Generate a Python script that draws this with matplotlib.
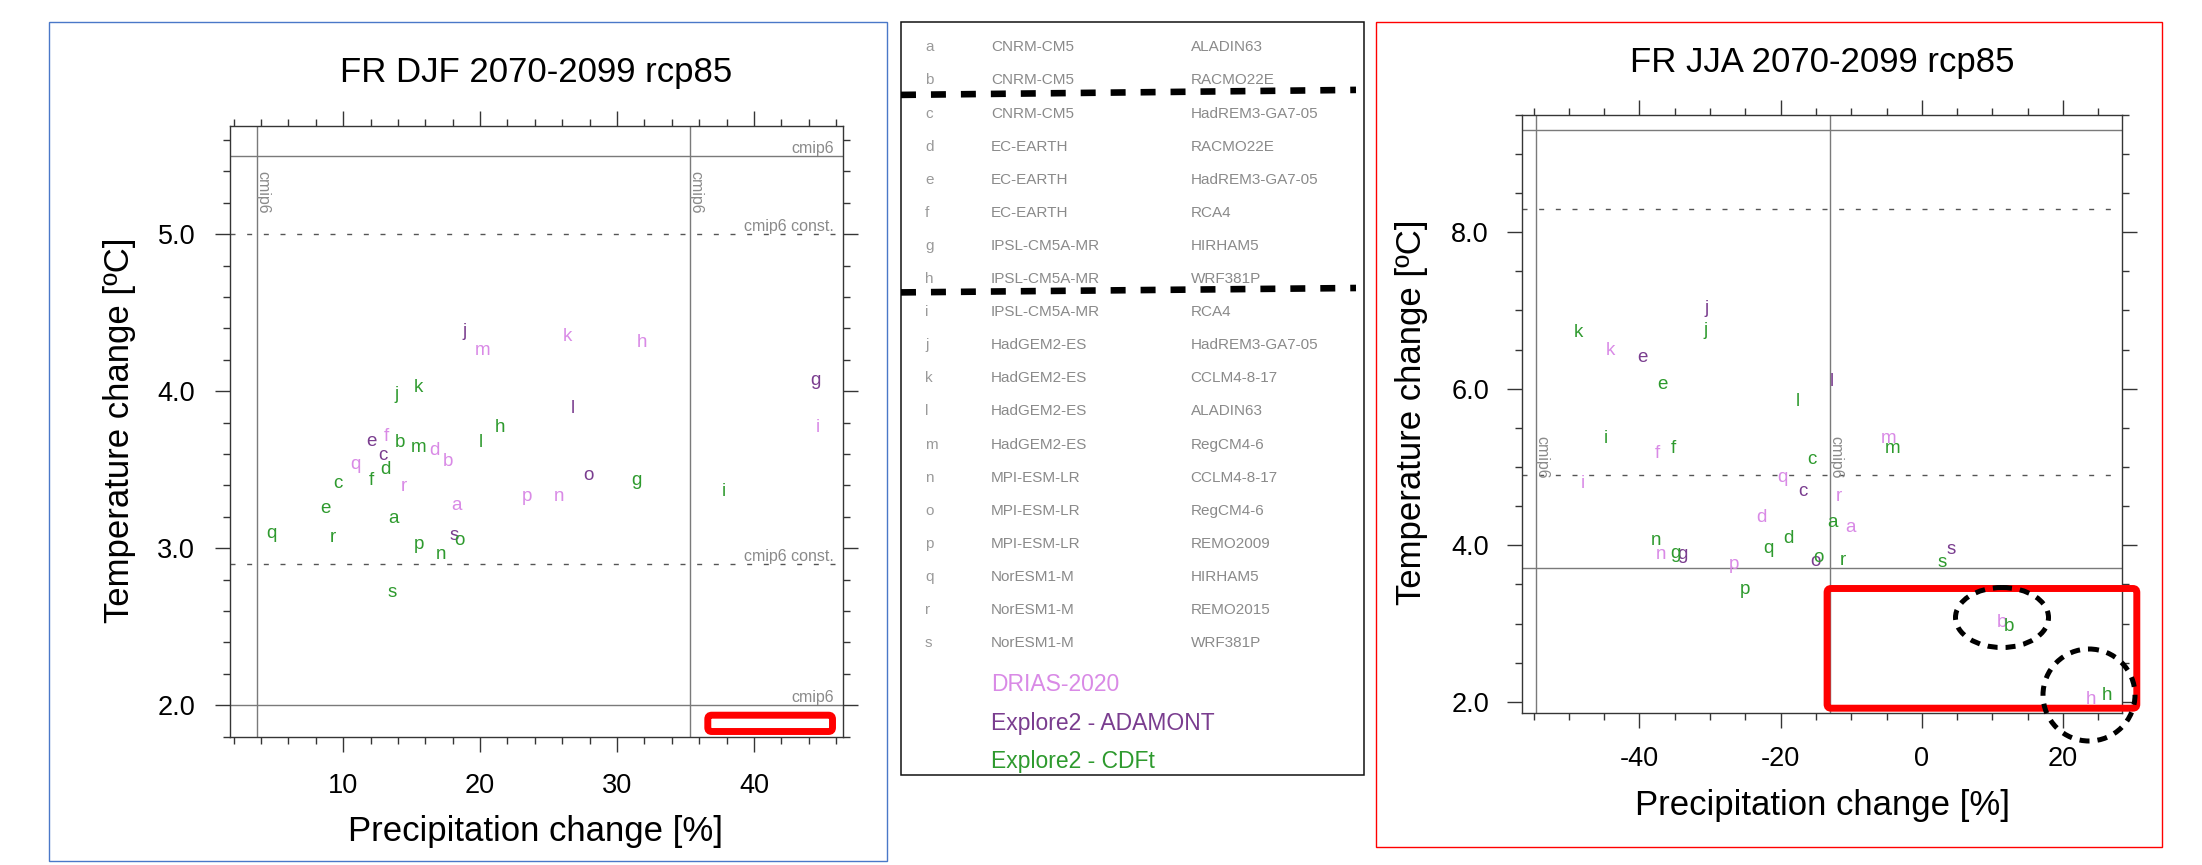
import matplotlib
matplotlib.use("Agg")
import matplotlib.pyplot as plt
from matplotlib.patches import Rectangle, FancyBboxPatch, Ellipse
from matplotlib.ticker import FixedLocator, MultipleLocator

plt.rcParams['font.family'] = ['Liberation Sans', 'DejaVu Sans']
plt.rcParams['axes.unicode_minus'] = False

# ---------------- data ----------------
letters = list("abcdefghijklmnopqrs")
gcms = ["CNRM-CM5", "CNRM-CM5", "CNRM-CM5", "EC-EARTH", "EC-EARTH", "EC-EARTH",
        "IPSL-CM5A-MR", "IPSL-CM5A-MR", "IPSL-CM5A-MR", "HadGEM2-ES", "HadGEM2-ES",
        "HadGEM2-ES", "HadGEM2-ES", "MPI-ESM-LR", "MPI-ESM-LR", "MPI-ESM-LR",
        "NorESM1-M", "NorESM1-M", "NorESM1-M"]
rcms = ["ALADIN63", "RACMO22E", "HadREM3-GA7-05", "RACMO22E", "HadREM3-GA7-05", "RCA4",
        "HIRHAM5", "WRF381P", "RCA4", "HadREM3-GA7-05", "CCLM4-8-17", "ALADIN63",
        "RegCM4-6", "CCLM4-8-17", "RegCM4-6", "REMO2009", "HIRHAM5", "REMO2015", "WRF381P"]

series_names = ["DRIAS-2020", "Explore2 - ADAMONT", "Explore2 - CDFt"]
series_colors = ["#d98ae6", "#7a3d8f", "#2e9a2e"]

# DJF
drias_letters = ["a", "b", "d", "f", "h", "i", "k", "m", "n", "p", "q", "r"]
adamont_letters = ["c", "e", "g", "j", "l", "o", "s"]
cdft_letters = letters

djf_drias_dp = [18.26, 17.65, 16.68, 13.16, 31.82, 44.66, 26.4, 20.2, 25.74, 23.41, 10.9, 14.42]
djf_drias_dt = [3.27, 3.55, 3.62, 3.71, 4.31, 3.77, 4.35, 4.26, 3.33, 3.33, 3.53, 3.39]
djf_adamont_dp = [12.92, 12.07, 44.52, 18.87, 26.77, 27.91, 18.09]
djf_adamont_dt = [3.59, 3.68, 4.07, 4.38, 3.89, 3.46, 3.08]
djf_cdft_dp = [13.7, 14.13, 9.64, 13.09, 8.74, 12.07, 31.43, 21.42, 37.81, 13.89, 15.52,
               20.09, 15.52, 17.17, 18.5, 15.54, 4.78, 9.23, 13.61]
djf_cdft_dt = [3.19, 3.67, 3.41, 3.50, 3.25, 3.43, 3.43, 3.77, 3.36, 3.98, 4.02,
               3.67, 3.64, 2.96, 3.05, 3.02, 3.09, 3.07, 2.72]

# JJA
jja_drias_dp = [-10.1, 11.4, -22.7, -37.5, 24.0, -48.0, -44.15, -4.7, -37.0, -26.6, -19.8, -11.8]
jja_drias_dt = [4.23, 3.01, 4.36, 5.17, 2.03, 4.79, 6.49, 5.36, 3.88, 3.76, 4.87, 4.62]
jja_adamont_dp = [-16.85, -39.6, -33.9, -30.5, -12.8, -15.05, 4.1]
jja_adamont_dt = [4.69, 6.40, 3.88, 7.02, 6.09, 3.79, 3.94]
jja_cdft_dp = [-12.6, 12.4, -15.5, -18.9, -36.8, -35.2, -34.9, 26.3, -44.7, -30.6, -48.7,
               -17.6, -4.1, -37.6, -14.7, -25.1, -21.8, -11.2, 2.85]
jja_cdft_dt = [4.29, 2.96, 5.09, 4.09, 6.05, 5.23, 3.89, 2.08, 5.36, 6.74, 6.72,
               5.84, 5.23, 4.06, 3.84, 3.44, 3.96, 3.80, 3.78]

# reference lines (cmip6 ranges)
djf_hlines_solid = [5.5, 2.0]
djf_hlines_dashed = [5.0, 2.9]
djf_vlines = [3.73, 35.3]
jja_hlines_solid = [9.30, 3.71]
jja_hlines_dashed = [8.30, 4.90]
jja_vlines = [-54.6, -13.07]

titles = ["FR DJF 2070-2099 rcp85", "FR JJA 2070-2099 rcp85"]
xlabel = "Precipitation change [%]"
ylabel = "Temperature change [ºC]"

djf_xticks = [10, 20, 30, 40]
djf_yticks = [2.0, 3.0, 4.0, 5.0]
jja_xticks = [-40, -20, 0, 20]
jja_yticks = [2.0, 4.0, 6.0, 8.0]

# ---------------- figure ----------------
W, H = 2202, 865
fig = plt.figure(figsize=(W / 100, H / 100), dpi=100)


def rect(l, t, r, b):
    return [l / W, 1 - b / H, (r - l) / W, (b - t) / H]


def ftext(x, y, s, **kw):
    return fig.text(x / W, 1 - y / H, s, **kw)


spine_c = "#353535"
gray_txt = "#8a8a8a"

ax1 = fig.add_axes(rect(230, 125.8, 843, 736.5))
ax2 = fig.add_axes(rect(1522.3, 114.7, 2122.3, 712.8))


def style(ax, xt, yt, xmin, ymin, xpad, ypad):
    for s in ax.spines.values():
        s.set_color(spine_c)
        s.set_linewidth(1.0)
    ax.xaxis.set_major_locator(FixedLocator(xt))
    ax.yaxis.set_major_locator(FixedLocator(yt))
    ax.set_xticklabels([f"{v:d}" for v in xt])
    ax.set_yticklabels([f"{v:.1f}" for v in yt])
    ax.xaxis.set_minor_locator(MultipleLocator(xmin))
    ax.yaxis.set_minor_locator(MultipleLocator(ymin))
    ax.tick_params(which="both", direction="out", top=True, right=True,
                   color=spine_c, width=1.0)
    ax.tick_params(which="major", length=11)
    ax.tick_params(which="minor", length=5)
    ax.tick_params(axis="x", which="major", labelsize=19.5, pad=xpad)
    ax.tick_params(axis="y", which="major", labelsize=19.5, pad=ypad)


style(ax1, djf_xticks, djf_yticks, 2, 0.2, 15.5, 14)
ax1.set_xlim(1.74, 46.5)
ax1.set_ylim(1.80, 5.69)
style(ax2, jja_xticks, jja_yticks, 5, 0.5, 13.2, 13)
ax2.set_xlim(-56.6, 28.4)
ax2.set_ylim(1.86, 9.50)

for ax, hs, hd, vl in [(ax1, djf_hlines_solid, djf_hlines_dashed, djf_vlines),
                       (ax2, jja_hlines_solid, jja_hlines_dashed, jja_vlines)]:
    for y in hs:
        ax.axhline(y, color="#7a7a7a", lw=1.0, zorder=1)
    for y in hd:
        ax.axhline(y, color="#555555", lw=1.0, ls=(0, (3.6, 8.4)), zorder=1)
    for x in vl:
        ax.axvline(x, color="#7a7a7a", lw=1.0, zorder=1)

# cmip6 labels, DJF
lab_kw = dict(fontsize=11.5, color=gray_txt, zorder=2)
for y, s in [(5.5, "cmip6"), (5.0, "cmip6 const."), (2.9, "cmip6 const."), (2.0, "cmip6")]:
    ax1.text(45.87, y + 0.019, s, ha="right", va="baseline", **lab_kw)
for x in djf_vlines:
    ax1.text(x + 0.11, 5.40, "cmip6", rotation=270, rotation_mode="anchor",
             ha="left", va="baseline", **lab_kw)
for x in jja_vlines:
    ax2.text(x + 0.2, 5.40, "cmip6", rotation=270, rotation_mode="anchor",
             ha="left", va="baseline", **lab_kw)

# letters
pt_kw = dict(fontsize=13.5, ha="center", va="center", zorder=3)
for ax, sets in [
    (ax1, [(drias_letters, djf_drias_dp, djf_drias_dt, 0),
           (adamont_letters, djf_adamont_dp, djf_adamont_dt, 1),
           (cdft_letters, djf_cdft_dp, djf_cdft_dt, 2)]),
    (ax2, [(drias_letters, jja_drias_dp, jja_drias_dt, 0),
           (adamont_letters, jja_adamont_dp, jja_adamont_dt, 1),
           (cdft_letters, jja_cdft_dp, jja_cdft_dt, 2)])]:
    for labs, xs, ys, ci in sets:
        for l, x, y in zip(labs, xs, ys):
            ax.text(x, y, l, color=series_colors[ci], **pt_kw)

# titles & axis labels
ftext(536, 81.6, titles[0], fontsize=25, ha="center", va="baseline")
ftext(1822.3, 71.7, titles[1], fontsize=25, ha="center", va="baseline")
ftext(536, 841.3, xlabel, fontsize=25, ha="center", va="baseline")
ftext(1822.3, 815.4, xlabel, fontsize=25, ha="center", va="baseline")
ftext(129, 430, ylabel, fontsize=25, rotation=90, rotation_mode="anchor",
      ha="center", va="baseline")
ftext(1421.4, 412.4, ylabel, fontsize=25, rotation=90, rotation_mode="anchor",
      ha="center", va="baseline")

# ---------------- overlay (legend panel, frames, annotations) ----------------
ov = fig.add_axes([0, 0, 1, 1], zorder=10)
ov.set_xlim(0, W)
ov.set_ylim(H, 0)
ov.axis("off")
ov.patch.set_alpha(0)

ov.add_patch(Rectangle((48.8, 22), 837.9, 838.6, fill=False, ec="#4a78c8", lw=1.0))
ov.add_patch(Rectangle((1376.4, 22), 785.1, 825, fill=False, ec="#ff0000", lw=1.0))
ov.add_patch(Rectangle((901, 22), 463.3, 753, fill=False, ec="#111111", lw=1.1))

for i, (l, g, r) in enumerate(zip(letters, gcms, rcms)):
    yb = 51.3 + 33.1 * i
    ov.text(925, yb, l, fontsize=11, color="#9a9a9a", ha="left", va="baseline")
    ov.text(991, yb, g, fontsize=11, color=gray_txt, ha="left", va="baseline")
    ov.text(1190.7, yb, r, fontsize=11, color=gray_txt, ha="left", va="baseline")

for i, (nm, c) in enumerate(zip(series_names, series_colors)):
    ov.text(991, 691.2 + 38.6 * i, nm, fontsize=16.5, color=c, ha="left", va="baseline")

for y0, y1 in [(94.9, 89.9), (292.4, 288.0)]:
    ov.plot([901, 1356], [y0, y1], color="black", lw=4.75, ls=(0, (2.27, 2.27)),
            dash_capstyle="butt")

ov.add_patch(FancyBboxPatch((707.8, 715.2), 124.7, 16.3,
                            boxstyle="round,pad=0,rounding_size=4",
                            ec="#ff0000", fc="white", lw=5))
ov.add_patch(FancyBboxPatch((1827.1, 588.5), 309.7, 119.7,
                            boxstyle="round,pad=0,rounding_size=4",
                            ec="#ff0000", fc="none", lw=5))
ov.add_patch(Ellipse((2002, 617.5), 93, 60, fill=False, ec="black", lw=3.6,
                     ls=(0, (2.0, 1.6))))
ov.add_patch(Ellipse((2089, 695), 92, 92, fill=False, ec="black", lw=3.6,
                     ls=(0, (2.0, 1.6))))

fig.savefig("out.png", dpi=100)
